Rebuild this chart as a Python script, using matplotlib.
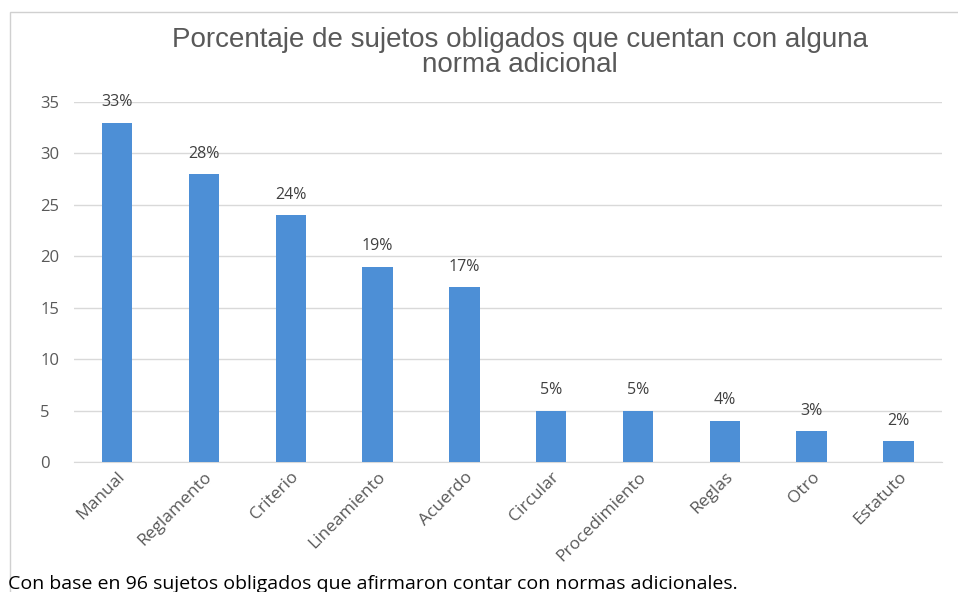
import matplotlib.pyplot as plt
from matplotlib.patches import Rectangle

# Datos
categorias = ['Manual', 'Reglamento', 'Criterio', 'Lineamiento', 'Acuerdo',
              'Circular', 'Procedimiento', 'Reglas', 'Otro', 'Estatuto']
porcentajes = [33, 28, 24, 19, 17, 5, 5, 4, 3, 2]
yticks = [0, 5, 10, 15, 20, 25, 30, 35]

titulo = 'Porcentaje de sujetos obligados que cuentan con alguna\nnorma adicional'
nota = 'Con base en 96 sujetos obligados que afirmaron contar con normas adicionales.'

bar_color = '#4D8FD6'
grid_color = '#D9D9D9'
text_gray = '#595959'

fig = plt.figure(figsize=(9.58, 5.92), dpi=100)
ax = fig.add_axes([0.077, 0.2196, 0.906, 0.608])

# marco del grafico
fig.patches.append(Rectangle((0.010, -0.01), 1.0, 0.99, transform=fig.transFigure,
                             fill=False, edgecolor='#D0D0D0', lw=1))

x = range(len(categorias))
bars = ax.bar(x, porcentajes, width=0.35, color=bar_color, zorder=3)

for b, v in zip(bars, porcentajes):
    ax.annotate(f'{v}%', (b.get_x() + b.get_width() / 2, v), xytext=(0, 9),
                textcoords='offset points', ha='center', va='bottom',
                fontsize=11.5, color='#404040', family='Open Sans')

ax.set_xlim(-0.5, len(categorias) - 0.5)
ax.set_ylim(0, 35)
ax.set_yticks(yticks)
ax.yaxis.grid(True, color=grid_color, lw=1, zorder=0)
ax.set_axisbelow(True)

for s in ['top', 'right', 'left']:
    ax.spines[s].set_visible(False)
ax.spines['bottom'].set_color(grid_color)

ax.tick_params(axis='y', length=0, labelsize=12, labelcolor=text_gray, pad=24)
ax.tick_params(axis='x', length=0, labelsize=12.5, labelcolor=text_gray, pad=5)
ax.set_xticks(list(x))
ax.set_xticklabels(categorias, rotation=45, ha='right', rotation_mode='anchor',
                   family='Open Sans')
for lbl in ax.get_yticklabels():
    lbl.set_family('Open Sans')
    lbl.set_horizontalalignment('left')

fig.text(0.543, 0.955, titulo, ha='center', va='top', fontsize=20,
         color=text_gray, family='Liberation Sans', linespacing=0.95)

fig.text(0.008, -0.002, nota, ha='left', va='bottom', fontsize=14,
         color='black', family='Open Sans')

plt.savefig('out.png', dpi=100)
